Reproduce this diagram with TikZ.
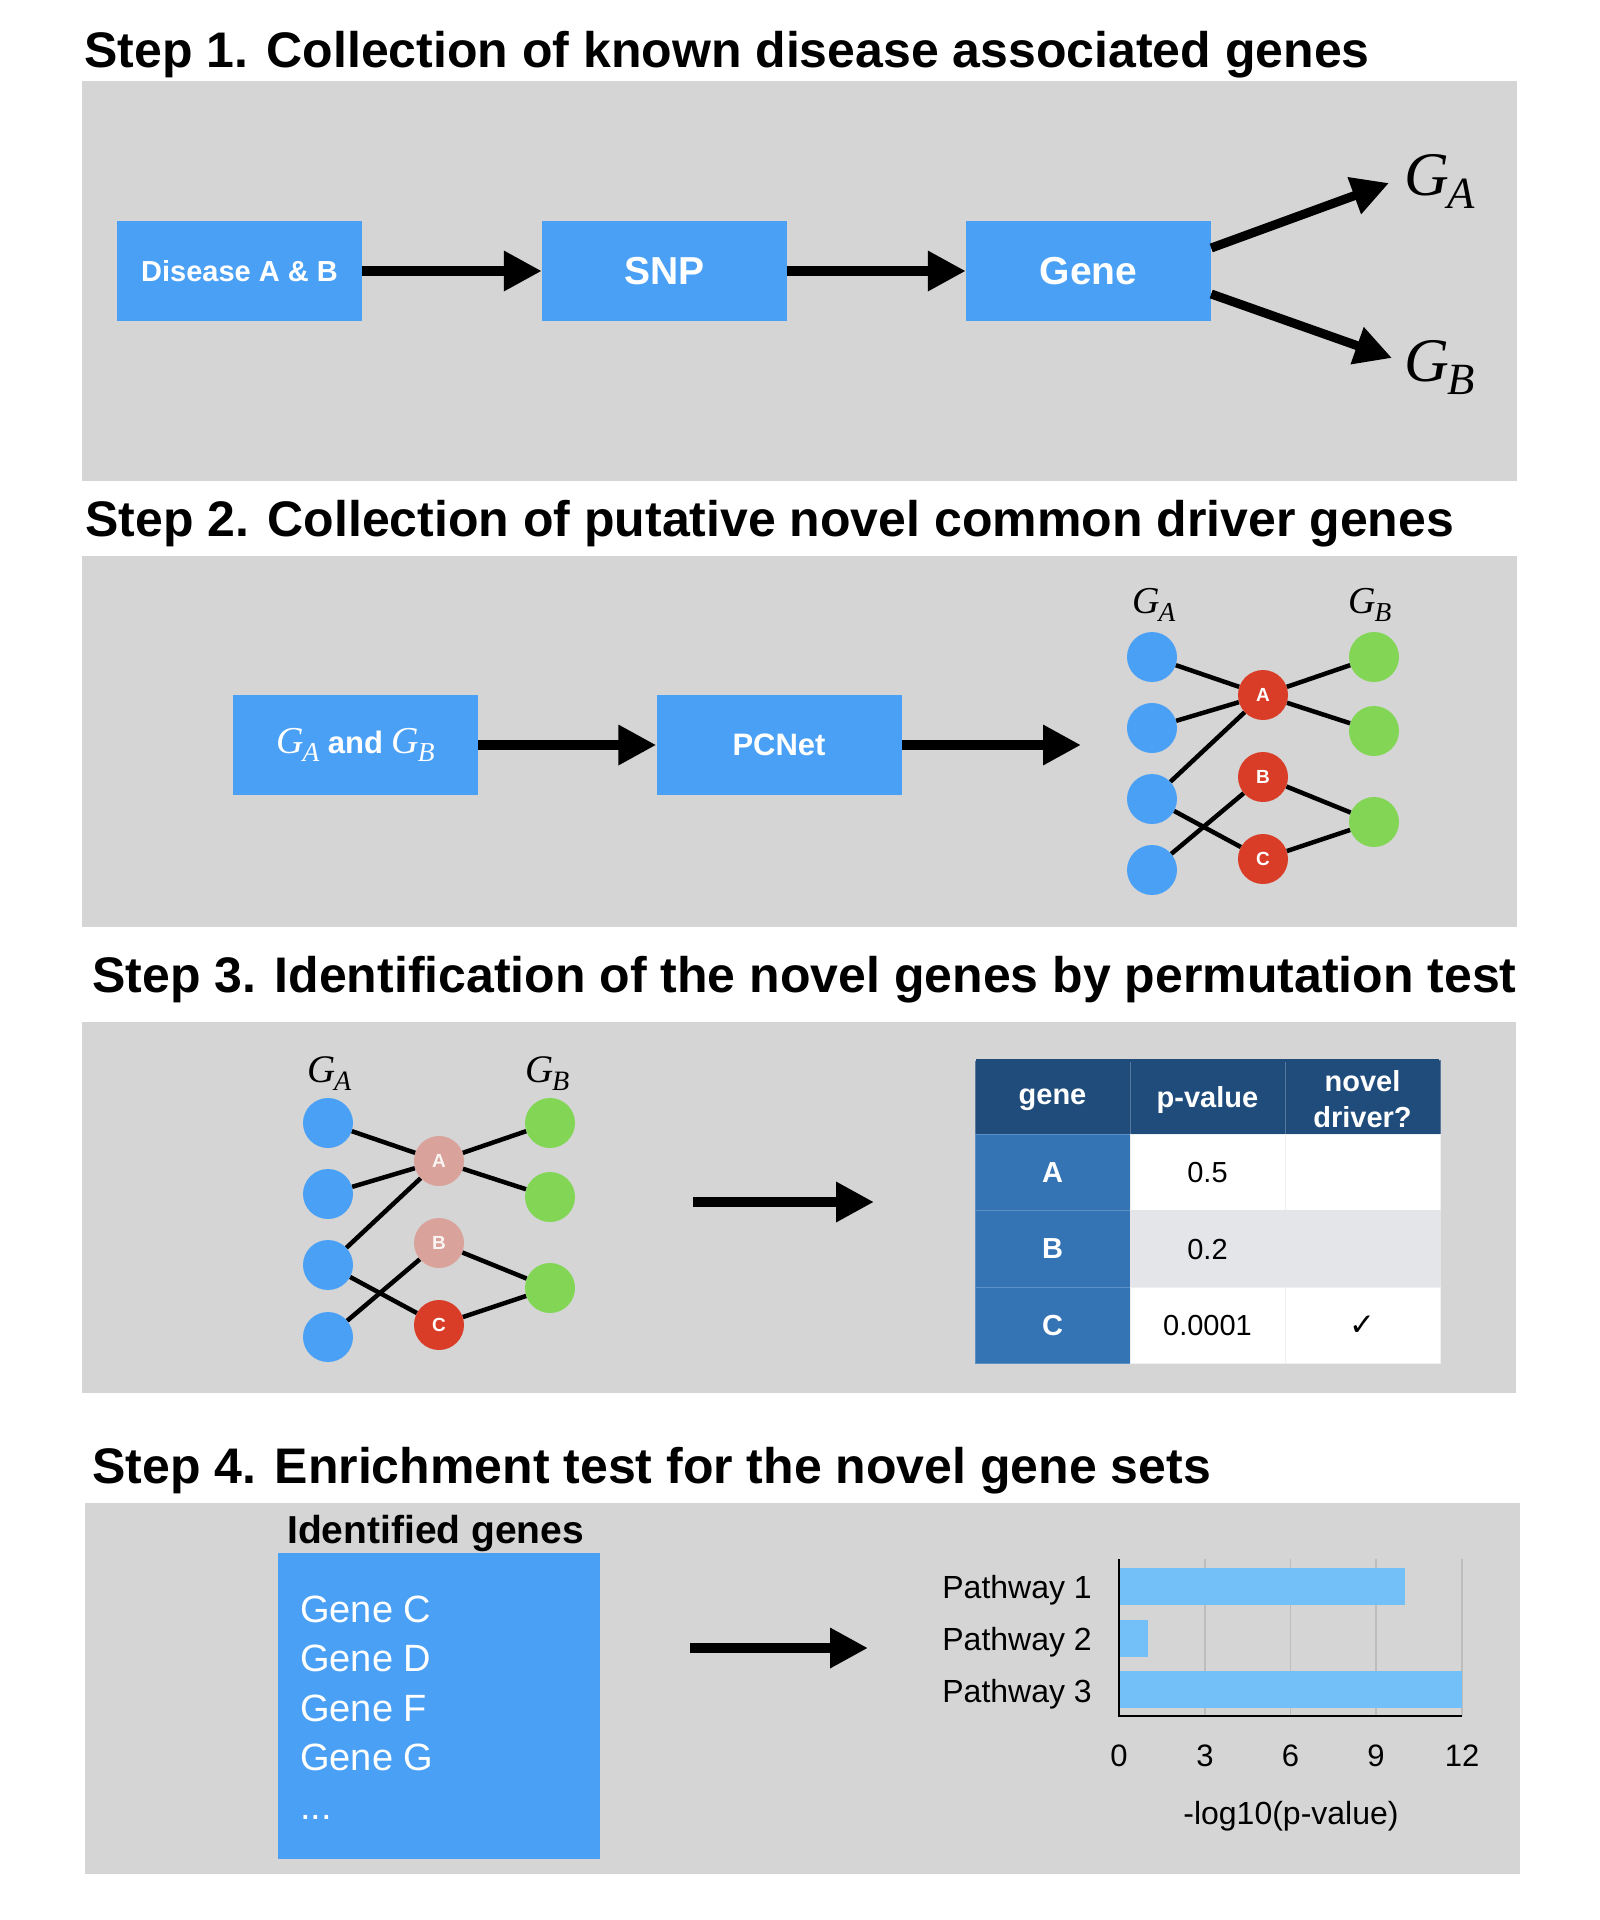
\documentclass[tikz,border=0pt]{standalone}
\usepackage{fontspec}
\setmainfont{Liberation Sans}
\newfontfamily\tnr{Liberation Serif}
\newfontfamily\djv{DejaVu Sans}
\usetikzlibrary{arrows.meta}
\newcommand\fsz[1]{\fontsize{#1}{#1}\selectfont}
\newcommand\GS[1]{{\normalfont\tnr\itshape G\kern-0.03em\raisebox{-0.22em}{\scalebox{0.72}{#1}}}}
\definecolor{panelgray}{RGB}{213,213,213}
\definecolor{boxblue}{RGB}{74,160,245}
\definecolor{nodered}{RGB}{217,61,40}
\definecolor{fadedred}{RGB}{217,162,154}
\definecolor{nodegreen}{RGB}{130,213,85}
\definecolor{hdrblue}{RGB}{32,76,124}
\definecolor{colblue}{RGB}{52,116,181}
\definecolor{rowgray}{RGB}{228,229,233}
\definecolor{barblue}{RGB}{115,192,249}
\definecolor{gridgray}{RGB}{189,189,189}
\begin{document}
\begin{tikzpicture}[x=1pt,y=-1pt,
  title/.style={anchor=base west, inner sep=0, font=\fsz{50}\bfseries},
  bluebox/.style={fill=boxblue, minimum width=245pt, minimum height=100pt, inner sep=0, text=white, font=\bfseries},
  bigarrow/.style={line width=10pt, -{Triangle[length=38pt,width=38pt]}},
  diagarrow/.style={line width=9pt, -{Triangle[length=37pt,width=37pt]}},
  gnode/.style={circle, minimum size=50pt, inner sep=0},
  bn/.style={gnode, fill=boxblue},
  gn/.style={gnode, fill=nodegreen},
  rn/.style={gnode, fill=nodered, text=white, font=\fsz{19}\bfseries},
  fn/.style={gnode, fill=fadedred, text=white!88!fadedred, font=\fsz{19}\bfseries},
  edge/.style={line width=4.5pt},
  glabel/.style={anchor=base west, inner sep=0, font=\fsz{39}},
  cell/.style={minimum width=155pt, minimum height=76.5pt, inner sep=0, line width=1pt},
  hcell/.style={cell, fill=hdrblue, draw=hdrblue!75!white, text=white, font=\fsz{29}\bfseries, align=center},
  ccell/.style={cell, fill=colblue, draw=colblue!80!white, text=white, font=\fsz{29}\bfseries},
  wcell/.style={cell, fill=white, draw=black!6, font=\fsz{29}},
  gcell/.style={cell, fill=rowgray, draw=rowgray, font=\fsz{29}},
  chartlabel/.style={inner sep=0, font=\fsz{32}},
  genetext/.style={anchor=base west, inner sep=0, text=white, font=\fsz{38}}
]
\useasboundingbox (0,0) rectangle (1600,1920);
\fill[white] (0,0) rectangle (1600,1920);

% ---------- panels ----------
\fill[panelgray] (82,81) rectangle (1517,481);
\fill[panelgray] (82,556) rectangle (1517,927);
\fill[panelgray] (82,1022) rectangle (1516,1393);
\fill[panelgray] (85,1503) rectangle (1520,1874);

% ---------- titles ----------
\node[title] (t1) at (84,67) {Step 1. Collection of known disease associated genes};
\node[title] (t2) at (85,536) {Step 2. Collection of putative novel common driver genes};
\node[title] (t3) at (92,992) {Step 3. Identification of the novel genes by permutation test};
\node[title] (t4) at (92,1483) {Step 4. Enrichment test for the novel gene sets};

% ---------- step 1 ----------
\node[bluebox, font=\fsz{29}\bfseries] (dis) at (239.5,271) {Disease A \& B};
\node[bluebox, font=\fsz{39}\bfseries] (snp) at (664.5,271) {SNP};
\node[bluebox, font=\fsz{39}\bfseries] (gene) at (1088.5,271) {Gene};
\draw[bigarrow] (dis) -- (snp);
\draw[bigarrow] (snp) -- (gene);
\node[anchor=base west, inner sep=0, font=\fsz{62}] (ga1) at (1404,195) {\GS{A}};
\node[anchor=base west, inner sep=0, font=\fsz{62}] (gb1) at (1404,381) {\GS{B}};
\coordinate (gatip) at (1389,183);
\coordinate (gbtip) at (1392,358);
\draw[diagarrow] ([yshift=23pt]gene.east) -- (gatip);
\draw[diagarrow] ([yshift=-23pt]gene.east) -- (gbtip);

% ---------- step 2 ----------
\node[bluebox, font=\fsz{31}\bfseries] (gab) at (355.5,745) {{\fsz{38}\GS{A}} and {\fsz{38}\GS{B}}};
\node[bluebox, font=\fsz{31}\bfseries] (pcnet) at (779,745) {PCNet};
\coordinate (s2end) at (1081,745);
\draw[bigarrow] (gab) -- (pcnet);
\draw[bigarrow] (pcnet) -- (s2end);

\node[glabel, font=\fsz{38}] (la2) at (1132,613) {\GS{A}};
\node[glabel, font=\fsz{38}] (lb2) at (1348,613) {\GS{B}};
\node[bn] (a1) at (1152,657) {};
\node[bn] (a2) at (1152,728) {};
\node[bn] (a3) at (1152,799) {};
\node[bn] (a4) at (1152,870) {};
\node[rn] (ra) at (1263,695) {A};
\node[rn] (rb) at (1263,777) {B};
\node[rn] (rc) at (1263,859) {C};
\node[gn] (b1) at (1374,657) {};
\node[gn] (b2) at (1374,731) {};
\node[gn] (b3) at (1374,822) {};
\draw[edge] (a1) -- (ra);
\draw[edge] (a2) -- (ra);
\draw[edge] (a3) -- (ra);
\draw[edge] (a3) -- (rc);
\draw[edge] (a4) -- (rb);
\draw[edge] (ra) -- (b1);
\draw[edge] (ra) -- (b2);
\draw[edge] (rb) -- (b3);
\draw[edge] (rc) -- (b3);

% ---------- step 3 ----------
\node[glabel] (la3) at (307,1082) {\GS{A}};
\node[glabel] (lb3) at (525,1082) {\GS{B}};
\node[bn] (c1) at (328,1123) {};
\node[bn] (c2) at (328,1194) {};
\node[bn] (c3) at (328,1265) {};
\node[bn] (c4) at (328,1337) {};
\node[fn] (fa) at (439,1161) {A};
\node[fn] (fb) at (439,1243) {B};
\node[rn] (fc) at (439,1325) {C};
\node[gn] (d1) at (550,1123) {};
\node[gn] (d2) at (550,1197) {};
\node[gn] (d3) at (550,1288) {};
\draw[edge] (c1) -- (fa);
\draw[edge] (c2) -- (fa);
\draw[edge] (c3) -- (fa);
\draw[edge] (c3) -- (fc);
\draw[edge] (c4) -- (fb);
\draw[edge] (fa) -- (d1);
\draw[edge] (fa) -- (d2);
\draw[edge] (fb) -- (d3);
\draw[edge] (fc) -- (d3);

\coordinate (s3a) at (693,1202);
\coordinate (s3b) at (874,1202);
\draw[bigarrow] (s3a) -- (s3b);

% table
\node[hcell] (h1) at (1052.5,1100) {gene};
\node[hcell] (h2) at (1207.5,1100) {p-value};
\node[hcell, font=\fontsize{29}{36}\selectfont\bfseries] (h3) at (1362.5,1099) {novel\\driver?};
\fill[hdrblue] (976,1059) rectangle (1439,1062);
\node[ccell] (ka) at (1052.5,1172.5) {A};
\node[wcell] (pa) at (1207.5,1172.5) {0.5};
\node[wcell] (na) at (1362.5,1172.5) {};
\node[ccell] (kb) at (1052.5,1249) {B};
\node[gcell] (pb) at (1207.5,1249) {0.2};
\node[gcell] (nb) at (1362.5,1249) {};
\node[ccell] (kc) at (1052.5,1325.5) {C};
\node[wcell] (pc) at (1207.5,1325.5) {0.0001};
\node[wcell, font=\fsz{31}\djv\bfseries] (nc) at (1362.5,1325.5) {✓};

% ---------- step 4 ----------
\node[anchor=base west, inner sep=0, font=\fsz{39}\bfseries] (idt) at (287,1543) {Identified genes};
\node[fill=boxblue, minimum width=322pt, minimum height=306pt, inner sep=0] (idbox) at (439,1706) {};
\node[genetext] (g1) at (300,1622) {Gene C};
\node[genetext] (g2) at (300,1671) {Gene D};
\node[genetext] (g3) at (300,1721) {Gene F};
\node[genetext] (g4) at (300,1770) {Gene G};
\node[genetext] (g5) at (300,1819) {...};

\coordinate (s4a) at (690,1648);
\coordinate (s4b) at (868,1648);
\draw[bigarrow] (s4a) -- (s4b);

% chart
\foreach \gx in {1205,1290.5,1376,1462} {
  \draw[gridgray, line width=1.5pt] (\gx,1559) -- (\gx,1716);
}
\fill[barblue] (1119,1568) rectangle (1405,1605);
\fill[barblue] (1119,1620) rectangle (1148,1657);
\fill[barblue] (1119,1671) rectangle (1462,1708);
\draw[black, line width=1.5pt] (1119,1559) -- (1119,1716) -- (1462,1716);
\node[chartlabel, anchor=base east] (p1) at (1092,1598) {Pathway 1};
\node[chartlabel, anchor=base east] (p2) at (1092,1650) {Pathway 2};
\node[chartlabel, anchor=base east] (p3) at (1092,1702) {Pathway 3};
\node[chartlabel, anchor=base, font=\fsz{31}] (x0) at (1119,1766) {0};
\node[chartlabel, anchor=base, font=\fsz{31}] (x3) at (1205,1766) {3};
\node[chartlabel, anchor=base, font=\fsz{31}] (x6) at (1290.5,1766) {6};
\node[chartlabel, anchor=base, font=\fsz{31}] (x9) at (1376,1766) {9};
\node[chartlabel, anchor=base, font=\fsz{31}] (x12) at (1462,1766) {12};
\node[chartlabel, anchor=base] (xt) at (1291,1824) {-log10(p-value)};
\end{tikzpicture}
\end{document}
